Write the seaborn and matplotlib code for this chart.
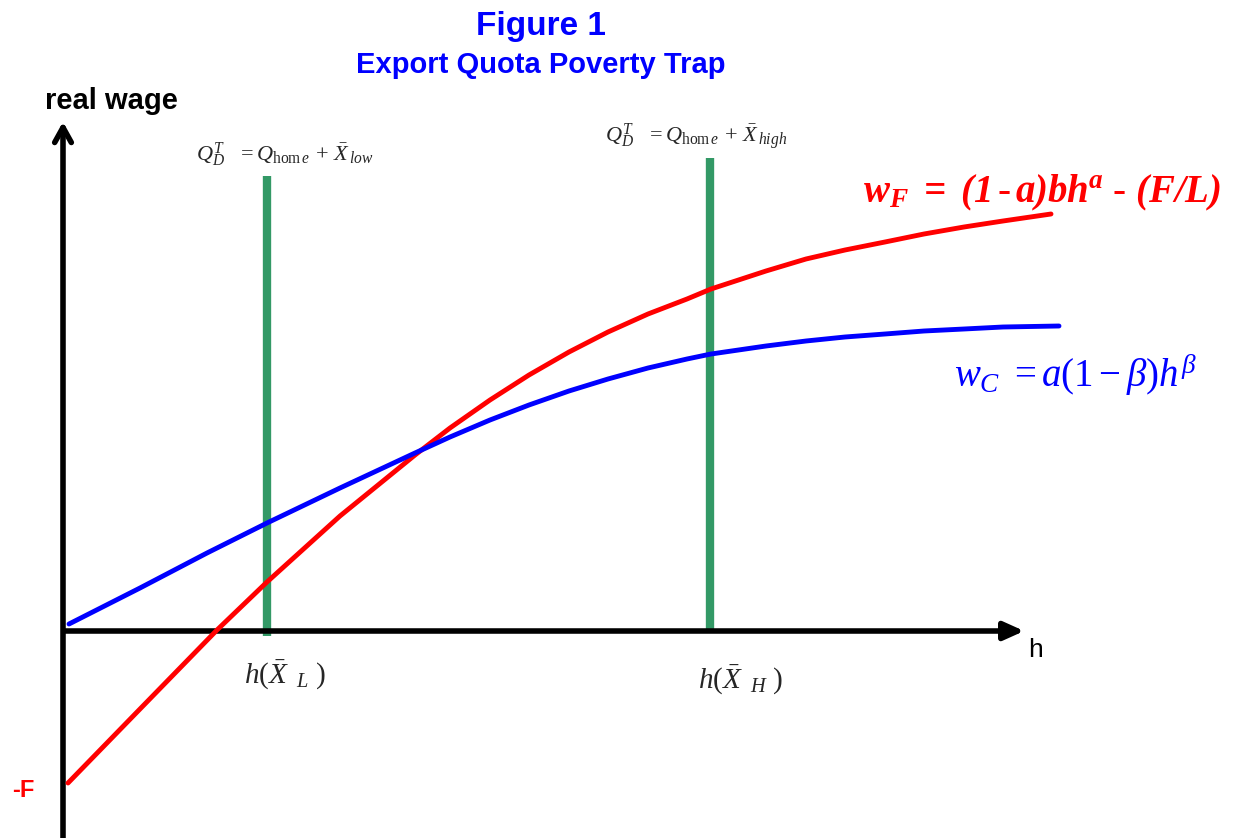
import matplotlib
matplotlib.use("Agg")
import matplotlib.pyplot as plt
import seaborn as sns
import pandas as pd

# ---- data (h = horizontal position, w = real wage) ----
red_h = [5, 77, 154, 204, 277, 352, 387, 427, 466, 506, 545, 585, 624, 648, 703,
         743, 782, 822, 861, 901, 940, 988]
red_w = [-152, -78, 1, 49, 115, 176, 203, 231, 256, 279, 299, 317, 332, 342, 360,
         372, 381, 389, 397, 404, 410, 417]
blue_h = [6, 77, 144, 204, 277, 352, 387, 427, 466, 506, 545, 585, 624, 648, 703,
          743, 782, 822, 861, 901, 940, 996]
blue_w = [7, 43, 78, 108, 143, 178, 194, 211, 226, 240, 252, 263, 272, 277, 285,
          290, 294, 297, 300, 302, 304, 305]
quota_h = [204, 647]
quota_top = [455, 473]
quota_bottom = [-5, 0]

sns.set_theme(style="white")
plt.rcParams["font.family"] = ["Liberation Sans", "DejaVu Sans"]
plt.rcParams["mathtext.fontset"] = "custom"
plt.rcParams["mathtext.rm"] = "Liberation Serif"
plt.rcParams["mathtext.it"] = "Liberation Serif:italic"
plt.rcParams["mathtext.bf"] = "Liberation Serif:bold"
plt.rcParams["mathtext.bfit"] = "Liberation Serif:bold:italic"

fig = plt.figure(figsize=(12.38, 8.38), dpi=100)
ax = fig.add_axes([0, 0, 1, 1])

# axes with arrows
ax.annotate("", xy=(0, 512), xytext=(0, -215),
            arrowprops=dict(arrowstyle="->,head_length=0.9,head_width=0.5", lw=4, color="black"))
ax.annotate("", xy=(964, 0), xytext=(-2, 0),
            arrowprops=dict(arrowstyle="-|>,head_length=1.0,head_width=0.45", lw=4, color="black"))

# quota lines
for h, t, b in zip(quota_h, quota_top, quota_bottom):
    ax.plot([h, h], [b, t], color="#339966", lw=6, solid_capstyle="butt", zorder=2)

df_red = pd.DataFrame({"h": red_h, "w": red_w})
df_blue = pd.DataFrame({"h": blue_h, "w": blue_w})
sns.lineplot(data=df_red, x="h", y="w", sort=False, color="#ff0000", lw=3.5, ax=ax, zorder=3,
             solid_joinstyle="round")
sns.lineplot(data=df_blue, x="h", y="w", sort=False, color="#0000ff", lw=3.5, ax=ax, zorder=3,
             solid_joinstyle="round")
ax.set_xlim(-63, 1175)
ax.set_ylim(-207, 631)
ax.axis("off")

# titles
ax.text(478, 604, "Figure 1", color="#0000ff", fontsize=24, fontweight="bold", ha="center", va="center")
ax.text(478, 566, "Export Quota Poverty Trap", color="#0000ff", fontsize=21, fontweight="bold",
        ha="center", va="center")
ax.text(-18, 530, "real wage", color="black", fontsize=21, fontweight="bold", ha="left", va="center")
ax.text(972, -19, "h", color="black", fontsize=19, ha="center", va="center")
ax.text(-40, -159, "-F", color="#ff0000", fontsize=17, fontweight="bold", ha="center", va="center")

# quota labels
ax.text(222, 476, r"$Q^T_D\;\;\;=Q_{\mathrm{hom}\,e}\,+\,\bar{X}_{\,low}$", fontsize=16,
        ha="center", va="center")
ax.text(633, 494, r"$Q^T_D\;\;\;=Q_{\mathrm{hom}\,e}\,+\,\bar{X}_{\,high}$", fontsize=16,
        ha="center", va="center")

# h labels
ax.text(222, -44, r"$h(\bar{X}_{\ \ L}\ )$", fontsize=21, ha="center", va="center")
ax.text(678, -49, r"$h(\bar{X}_{\ \ H}\ )$", fontsize=21, ha="center", va="center")

# curve formulas
ax.text(979, 438, r"$\mathbfit{w_F\ =\ (1\,\text{-}\,a)bh^a\ \text{-}\ (F/L)}$", color="#ff0000",
        fontsize=28, ha="center", va="center")
ax.text(1012, 256, r"$w_C\ =a(1-\beta)h^\beta$", color="#0000ff", fontsize=28, ha="center", va="center")

fig.savefig("out.png", dpi=100)
